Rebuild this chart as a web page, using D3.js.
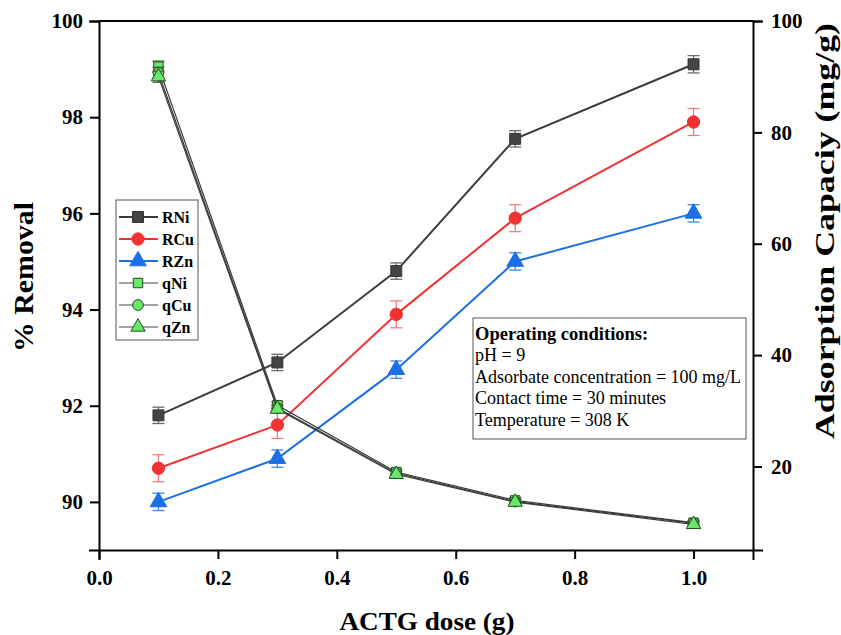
<!DOCTYPE html>
<html>
<head>
<meta charset="utf-8">
<script src="https://cdn.jsdelivr.net/npm/d3@7"></script>
<style>
  body { margin: 0; background: #fff; }
  svg { display: block; }
  text { font-family: "Liberation Serif", "Times New Roman", serif; }
</style>
</head>
<body>
<svg id="chart" width="841" height="635"></svg>
<script>
// ACTG dose (g)
const doses = [0.1, 0.3, 0.5, 0.7, 1.0];

// % removal
const rNi = [91.8, 92.9, 94.8, 97.55, 99.1];
const rCu = [90.7, 91.6, 93.9, 95.9, 97.9];
const rZn = [90.0, 90.9, 92.75, 95.0, 96.0];
const rNiErr = [0.17, 0.17, 0.17, 0.17, 0.18];
const rCuErr = [0.28, 0.28, 0.28, 0.28, 0.28];
const rZnErr = [0.18, 0.18, 0.18, 0.18, 0.18];

// adsorption capacity (mg/g)
const qNi = [91.8, 31.0, 19.0, 13.9, 9.9];
const qCu = [90.7, 30.5, 18.8, 13.7, 9.8];
const qZn = [90.0, 30.3, 18.6, 13.6, 9.6];
const qErr = [1.0, 0.6, 0.5, 0.5, 0.4];

const xTicks = [0.0, 0.2, 0.4, 0.6, 0.8, 1.0];
const yLeftTicks = [90, 92, 94, 96, 98, 100];
const yRightTicks = [20, 40, 60, 80, 100];

const conditions = [
  "pH = 9",
  "Adsorbate concentration = 100 mg/L",
  "Contact time = 30 minutes",
  "Temperature = 308 K"
];

const svg = d3.select("#chart");
const L = 99, R = 753, T = 21, B = 550;

const x = d3.scaleLinear().domain([0, 1.1]).range([L, R]);
const yL = d3.scaleLinear().domain([89, 100]).range([B, T]);
const yR = d3.scaleLinear().domain([5, 100]).range([B, T]);

const bold = "bold";

function styleAxis(g) {
  g.selectAll("path.domain").attr("stroke", "#000").attr("stroke-width", 2);
  g.selectAll(".tick line").attr("stroke", "#000").attr("stroke-width", 2);
  g.selectAll(".tick text").attr("font-size", 21).attr("font-weight", bold)
    .attr("font-family", "Liberation Serif").attr("fill", "#000");
}

// bottom axis: minor then major ticks
const gx = svg.append("g").attr("transform", `translate(0,${B})`);
gx.call(d3.axisBottom(x).tickValues(d3.range(0.1, 1.1, 0.2)).tickSize(5).tickFormat(""));
gx.call(d3.axisBottom(x).tickValues(xTicks).tickSize(9).tickPadding(11).tickFormat(d3.format(".1f")));
styleAxis(gx);

const gl = svg.append("g").attr("transform", `translate(${L},0)`);
gl.call(d3.axisLeft(yL).tickValues([89, 91, 93, 95, 97, 99]).tickSize(5).tickFormat(""));
gl.call(d3.axisLeft(yL).tickValues(yLeftTicks).tickSize(9).tickPadding(7).tickFormat(d3.format("d")));
styleAxis(gl);

const gr = svg.append("g").attr("transform", `translate(${R},0)`);
gr.call(d3.axisRight(yR).tickValues([10, 30, 50, 70, 90]).tickSize(5).tickFormat(""));
gr.call(d3.axisRight(yR).tickValues(yRightTicks).tickSize(9).tickPadding(9).tickFormat(d3.format("d")));
styleAxis(gr);

// top frame line
svg.append("line").attr("x1", L).attr("x2", R).attr("y1", T).attr("y2", T)
  .attr("stroke", "#000").attr("stroke-width", 2);
svg.selectAll("path.domain").attr("stroke-linecap", "square");

// axis titles
svg.append("text").attr("x", 427).attr("y", 630)
  .attr("text-anchor", "middle").attr("font-size", 26).attr("font-weight", bold)
  .attr("textLength", 175).attr("lengthAdjust", "spacingAndGlyphs")
  .text("ACTG dose (g)");
svg.append("text").attr("transform", "translate(33,277) rotate(-90)")
  .attr("text-anchor", "middle").attr("font-size", 27).attr("font-weight", bold)
  .attr("textLength", 150).attr("lengthAdjust", "spacingAndGlyphs")
  .text("% Removal");
svg.append("text").attr("transform", "translate(834,231) rotate(-90)")
  .attr("text-anchor", "middle").attr("font-size", 27).attr("font-weight", bold)
  .attr("textLength", 416).attr("lengthAdjust", "spacingAndGlyphs")
  .text("Adsorption Capaciy (mg/g)");

// series definitions
const series = [
  { name: "RNi", vals: rNi, err: rNiErr, y: yL, color: "#3c3c3c", errColor: "#6a6a6a", fill: "#444", stroke: "#333", sym: d3.symbolSquare, size: 120, lw: 2 },
  { name: "RCu", vals: rCu, err: rCuErr, y: yL, color: "#f03232", errColor: "#f07c7c", fill: "#f03232", stroke: "#f03232", sym: d3.symbolCircle, size: 120, lw: 2 },
  { name: "RZn", vals: rZn, err: rZnErr, y: yL, color: "#1c6fe6", errColor: "#3a86ec", fill: "#1c6fe6", stroke: "#1c6fe6", sym: d3.symbolTriangle, size: 120, lw: 2 },
  { name: "qNi", vals: qNi, err: qErr, y: yR, color: "#3a3a3a", errColor: "#555", fill: "#6be86b", stroke: "#1e4d1e", sym: d3.symbolSquare, size: 90, lw: 1.2 },
  { name: "qCu", vals: qCu, err: qErr, y: yR, color: "#3a3a3a", errColor: "#555", fill: "#6be86b", stroke: "#1e4d1e", sym: d3.symbolCircle, size: 90, lw: 1.2 },
  { name: "qZn", vals: qZn, err: qErr, y: yR, color: "#3a3a3a", errColor: "#555", fill: "#6be86b", stroke: "#1e4d1e", sym: d3.symbolTriangle, size: 90, lw: 1.2 }
];

const plot = svg.append("g");
series.forEach(s => {
  const pts = doses.map((d, i) => ({ x: d, v: s.vals[i], e: s.err[i] }));
  const line = d3.line().x(p => x(p.x)).y(p => s.y(p.v));
  plot.append("path").datum(pts).attr("d", line)
    .attr("fill", "none").attr("stroke", s.color).attr("stroke-width", s.lw);
  // error bars with caps
  const eb = plot.append("g").attr("stroke", s.errColor).attr("stroke-width", 1.3);
  pts.forEach(p => {
    const cx = x(p.x), y1 = s.y(p.v - p.e), y2 = s.y(p.v + p.e);
    eb.append("line").attr("x1", cx).attr("x2", cx).attr("y1", y1).attr("y2", y2);
    eb.append("line").attr("x1", cx - 6).attr("x2", cx + 6).attr("y1", y1).attr("y2", y1);
    eb.append("line").attr("x1", cx - 6).attr("x2", cx + 6).attr("y1", y2).attr("y2", y2);
  });
  plot.append("g").selectAll("path").data(pts).join("path")
    .attr("transform", p => `translate(${x(p.x)},${s.y(p.v)})`)
    .attr("d", d3.symbol().type(s.sym).size(s.size))
    .attr("fill", s.fill).attr("stroke", s.stroke).attr("stroke-width", 1);
});

// legend
const lg = svg.append("g").attr("transform", "translate(116,200)");
lg.append("rect").attr("width", 82).attr("height", 140)
  .attr("fill", "#fff").attr("stroke", "#555").attr("stroke-width", 1);
series.forEach((s, i) => {
  const yy = 17 + i * 22;
  lg.append("line").attr("x1", 3).attr("x2", 42).attr("y1", yy).attr("y2", yy)
    .attr("stroke", i < 3 ? s.color : "#444").attr("stroke-width", i < 3 ? 2 : 1);
  lg.append("path").attr("transform", `translate(22,${yy})`)
    .attr("d", d3.symbol().type(s.sym).size(s.size))
    .attr("fill", s.fill).attr("stroke", s.stroke).attr("stroke-width", 1);
  lg.append("text").attr("x", 46).attr("y", yy + 5.5)
    .attr("font-size", 16).attr("font-weight", bold).text(s.name);
});

// operating conditions box
const cb = svg.append("g").attr("transform", "translate(473,318)");
cb.append("rect").attr("width", 273).attr("height", 121)
  .attr("fill", "#fff").attr("stroke", "#555").attr("stroke-width", 1);
cb.append("text").attr("x", 2).attr("y", 22).attr("font-size", 18.5)
  .attr("font-weight", bold).text("Operating conditions:");
conditions.forEach((c, i) => {
  cb.append("text").attr("x", 2).attr("y", 43 + i * 21.7).attr("font-size", 18).text(c);
});
</script>
</body>
</html>
